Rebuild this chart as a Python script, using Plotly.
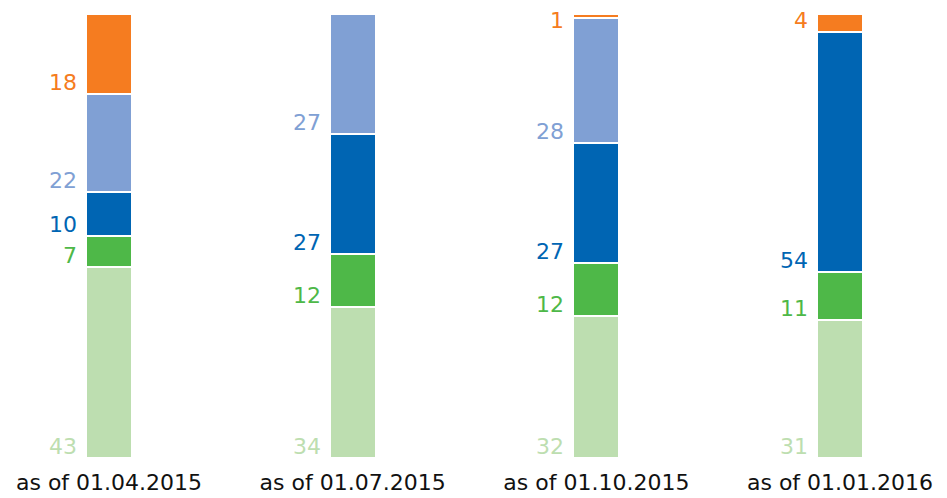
import plotly.graph_objects as go

categories = ["as of 01.04.2015", "as of 01.07.2015", "as of 01.10.2015", "as of 01.01.2016"]
series_names = ["s1", "s2", "s3", "s4", "s5"]
s1_light_green = [43, 34, 32, 31]
s2_green = [7, 12, 12, 11]
s3_dark_blue = [10, 27, 27, 54]
s4_light_blue = [22, 27, 28, 0]
s5_orange = [18, 0.8, 1, 4]
colors = ["#BDDEB0", "#4EB848", "#0065B3", "#80A0D4", "#F57C20"]

series = [s1_light_green, s2_green, s3_dark_blue, s4_light_blue, s5_orange]
xs = list(range(len(categories)))
bar_w = 0.189
FONT = "DejaVu Sans"

fig = go.Figure()
for name, vals, col in zip(series_names, series, colors):
    fig.add_trace(go.Bar(
        x=xs, y=vals, name=name, width=bar_w,
        marker=dict(color=col, line=dict(color="white", width=2)),
        hoverinfo="skip",
    ))

annotations = []
cum = [0.0] * len(categories)
for vals, col in zip(series, colors):
    for i, v in enumerate(vals):
        if v >= 1:
            annotations.append(dict(
                x=i - bar_w / 2, y=min(cum[i], 96), xref="x", yref="y",
                text=str(round(v)), showarrow=False,
                xanchor="right", yanchor="bottom",
                xshift=-7, yshift=-3,
                font=dict(family=FONT, size=22, color=col),
            ))
        cum[i] += v

fig.update_layout(
    barmode="stack",
    width=939, height=490,
    margin=dict(l=0, r=0, t=6, b=40),
    paper_bgcolor="white", plot_bgcolor="white",
    showlegend=False,
    annotations=annotations,
    xaxis=dict(
        range=[-0.4145, 3.4391], tickvals=xs, ticktext=categories,
        showgrid=False, zeroline=False, showline=False, ticks="",
        automargin=False, ticklabelstandoff=9,
        tickfont=dict(family=FONT, size=22, color="#111111"),
    ),
    yaxis=dict(range=[0, 100], visible=False, showgrid=False, zeroline=False,
               automargin=False),
)

fig.write_html("out.html")
